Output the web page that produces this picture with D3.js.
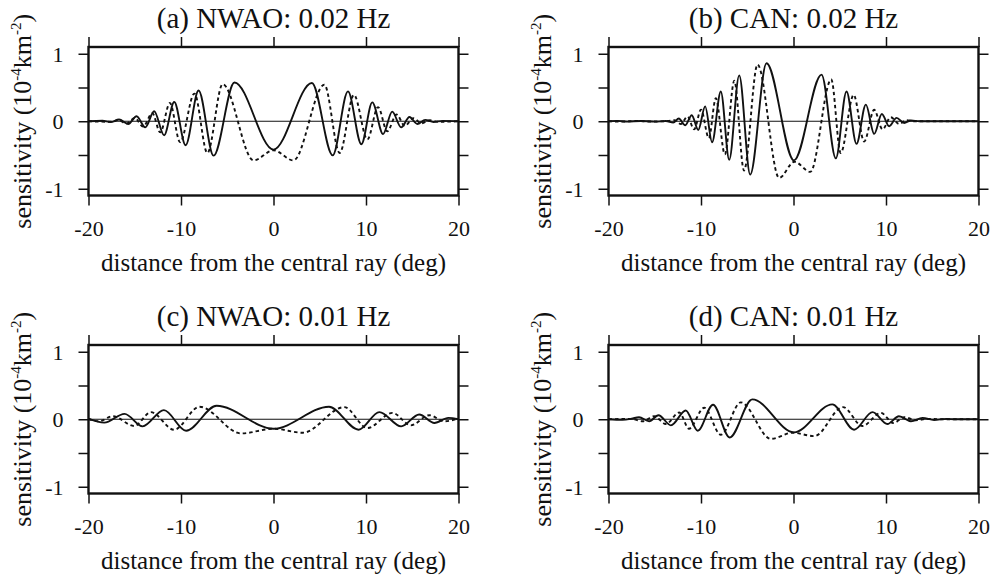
<!DOCTYPE html>
<html>
<head>
<meta charset="utf-8">
<script src="https://cdn.jsdelivr.net/npm/d3@7"></script>
<style>
  body { margin: 0; background: #fff; }
  svg { display: block; }
</style>
</head>
<body>
<script>
// tick values and labels
const xTicks = [-20, -10, 0, 10, 20]
const yTicks = [-1, -0.5, 0, 0.5, 1]
const yLabelTicks = [-1, 0, 1]
const titles = ['(a) NWAO: 0.02 Hz', '(b) CAN: 0.02 Hz', '(c) NWAO: 0.01 Hz', '(d) CAN: 0.01 Hz']
const xLabel = 'distance from the central ray (deg)'

// curves: [distance (deg), sensitivity], extrema of each wiggle
const nwao02Solid = [[-20, 0], [-18.5, 0.008], [-17.6, -0.012], [-16.7, 0.025], [-15.7, -0.04], [-14.8, 0.074],
    [-13.87, -0.09], [-12.9, 0.148], [-11.83, -0.207], [-10.73, 0.286], [-9.5, -0.355], [-8.1, 0.455],
    [-6.48, -0.51], [-4.22, 0.575], [0, -0.42], [4.15, 0.567], [6.4, -0.505], [8.05, 0.443], [9.5, -0.34],
    [10.68, 0.28], [11.85, -0.19], [12.83, 0.142], [13.8, -0.09], [14.7, 0.062], [15.55, -0.04], [16.4, 0.02],
    [17.3, -0.01], [18.3, 0.006], [20, 0]]
const nwao02Dashed = [[-20, 0], [-17.4, -0.008], [-16.8, 0.02], [-15.9, -0.035], [-15.0, 0.05], [-14.1, -0.08],
    [-13.1, 0.12], [-12.25, -0.165], [-11.2, 0.27], [-10.1, -0.31], [-8.55, 0.41], [-7.15, -0.47], [-5.5, 0.55],
    [-2.15, -0.58], [0, -0.43], [2.15, -0.58], [5.5, 0.54], [7.15, -0.47], [8.7, 0.39], [10.15, -0.27],
    [11.3, 0.21], [12.3, -0.15], [13.3, 0.1], [14.2, -0.07], [15.1, 0.045], [16.0, -0.03], [16.9, 0.015],
    [17.8, -0.008], [20, 0]]

const can02Solid = [[-20, 0], [-19, 0.005], [-18, -0.005], [-16.5, 0.004], [-15, -0.006], [-13.8, 0.003],
    [-13.0, -0.02], [-12.4, 0.04], [-11.7, -0.06], [-11.0, 0.09], [-10.3, -0.13], [-9.55, 0.22], [-8.8, -0.31],
    [-7.86, 0.44], [-6.95, -0.57], [-5.87, 0.68], [-4.68, -0.79], [-2.92, 0.86], [0.05, -0.58], [3.03, 0.69],
    [4.58, -0.55], [5.73, 0.44], [6.81, -0.335], [7.82, 0.246], [8.72, -0.187], [9.55, 0.108], [10.34, -0.074],
    [11.14, 0.05], [11.96, -0.025], [12.7, 0.012], [13.6, 0], [20, 0]]
const can02Dashed = [[-20, 0], [-18.5, -0.005], [-17, 0.005], [-15.5, -0.004], [-13.6, 0.003], [-12.9, 0.015],
    [-12.18, -0.04], [-11.46, 0.07], [-10.74, -0.12], [-10.0, 0.17], [-9.15, -0.25], [-8.4, 0.34], [-7.42, -0.49],
    [-6.4, 0.6], [-5.35, -0.73], [-3.89, 0.84], [-1.55, -0.84], [0.1, -0.6], [1.82, -0.75], [4.08, 0.62],
    [5.1, -0.47], [6.5, 0.39], [7.64, -0.3], [8.72, 0.17], [9.62, -0.12], [10.52, 0.06], [11.42, -0.04],
    [12.2, 0.015], [13.0, 0], [20, 0]]

const nwao01Solid = [[-20, 0.01], [-18.3, -0.05], [-16.1, 0.08], [-14.15, -0.105], [-11.85, 0.135], [-9.45, -0.17],
    [-6.15, 0.2], [0, -0.14], [6.0, 0.185], [9.2, -0.155], [11.45, 0.105], [13.8, -0.105], [15.75, 0.07],
    [17.4, -0.055], [18.9, 0.02], [20, 0]]
const nwao01Dashed = [[-20, 0], [-18.85, -0.03], [-17.4, 0.045], [-15.05, -0.1], [-13.25, 0.105], [-10.75, -0.155],
    [-8.0, 0.185], [-3.5, -0.21], [0, -0.14], [3.15, -0.2], [7.65, 0.18], [10.15, -0.13], [12.85, 0.095],
    [14.85, -0.09], [16.85, 0.06], [18.45, -0.03], [20, 0.01]]

const can01Solid = [[-20, 0], [-18.5, -0.008], [-17.5, 0.008], [-16.7, 0.03], [-15.6, -0.03], [-14.6, 0.06],
    [-13.25, -0.09], [-11.65, 0.13], [-10.35, -0.17], [-8.7, 0.215], [-6.9, -0.27], [-4.45, 0.295], [0.05, -0.195],
    [4.2, 0.22], [6.55, -0.155], [8.55, 0.105], [10.15, -0.07], [11.4, 0.045], [12.7, -0.03], [13.95, 0.02],
    [15.2, -0.01], [16.5, 0.005], [17.5, 0], [20, 0]]
const can01Dashed = [[-20, 0], [-17.5, 0.005], [-16.3, -0.03], [-15.05, 0.045], [-13.8, -0.07], [-12.35, 0.1],
    [-11.3, -0.14], [-9.65, 0.17], [-7.85, -0.23], [-5.7, 0.25], [-2.45, -0.29], [-0.1, -0.2], [2.25, -0.25],
    [5.35, 0.18], [7.45, -0.1], [9.45, 0.095], [10.8, -0.055], [12.0, 0.03], [13.2, -0.015], [14.5, 0.005],
    [16, 0], [20, 0]]

const panels = [
    { title: titles[0], solid: nwao02Solid, dashed: nwao02Dashed, col: 0, row: 0 },
    { title: titles[1], solid: can02Solid, dashed: can02Dashed, col: 1, row: 0 },
    { title: titles[2], solid: nwao01Solid, dashed: nwao01Dashed, col: 0, row: 1 },
    { title: titles[3], solid: can01Solid, dashed: can01Dashed, col: 1, row: 1 }
]

const width = 995
const height = 578
const colLeft = [88.5, 608.5]
const rowTop = [47, 345]
const plotW = 370
const plotH = 148.5
const ink = '#111'
const font = '"Liberation Serif", "Times New Roman", serif'

const svg = d3.select('body').append('svg')
    .attr('width', width)
    .attr('height', height)

panels.forEach(p => {
    const x0 = colLeft[p.col]
    const y0 = rowTop[p.row]

    const x = d3.scaleLinear().domain([-20, 20]).range([x0, x0 + plotW])
    const y = d3.scaleLinear().domain([-1.1, 1.1]).range([y0 + plotH, y0])

    const g = svg.append('g')

    // zero line
    g.append('line')
        .attr('x1', x(-20)).attr('x2', x(20))
        .attr('y1', y(0)).attr('y2', y(0))
        .attr('stroke', ink)
        .attr('stroke-width', 1.1)

    const line = d3.line()
        .x(d => x(d[0]))
        .y(d => y(d[1]))
        .curve(d3.curveMonotoneX)

    g.append('path')
        .attr('d', line(p.dashed))
        .attr('fill', 'none')
        .attr('stroke', ink)
        .attr('stroke-width', 1.9)
        .attr('stroke-dasharray', '3.5,3')

    g.append('path')
        .attr('d', line(p.solid))
        .attr('fill', 'none')
        .attr('stroke', ink)
        .attr('stroke-width', 1.9)

    // axes, ticks pointing outward
    const bottom = g.append('g')
        .attr('transform', 'translate(0,' + (y0 + plotH) + ')')
        .call(d3.axisBottom(x).tickValues(xTicks).tickSize(10).tickFormat(d => String(d)))
    const top = g.append('g')
        .attr('transform', 'translate(0,' + y0 + ')')
        .call(d3.axisTop(x).tickValues(xTicks).tickSize(10).tickFormat(''))
    const left = g.append('g')
        .attr('transform', 'translate(' + x0 + ',0)')
        .call(d3.axisLeft(y).tickValues(yTicks).tickSize(10)
            .tickFormat(d => yLabelTicks.includes(d) ? String(d) : ''))
    const right = g.append('g')
        .attr('transform', 'translate(' + (x0 + plotW) + ',0)')
        .call(d3.axisRight(y).tickValues(yTicks).tickSize(10).tickFormat(''))

    ;[bottom, top, left, right].forEach(a => {
        a.select('.domain').remove()
        a.selectAll('.tick line').attr('stroke', ink).attr('stroke-width', 1.5)
        a.attr('font-family', font).attr('font-size', 22)
        a.selectAll('text').attr('fill', ink)
    })
    bottom.selectAll('text').attr('y', 40).attr('dy', 0)
    left.selectAll('text').attr('x', -25).attr('dy', '0.34em')

    // frame
    g.append('rect')
        .attr('x', x0).attr('y', y0)
        .attr('width', plotW).attr('height', plotH)
        .attr('fill', 'none')
        .attr('stroke', ink)
        .attr('stroke-width', 2.4)

    // title
    g.append('text')
        .attr('x', x0 + plotW / 2)
        .attr('y', y0 - 19)
        .attr('text-anchor', 'middle')
        .attr('font-family', font)
        .attr('font-size', 29)
        .attr('fill', ink)
        .text(p.title)

    // x label
    g.append('text')
        .attr('x', x0 + plotW / 2)
        .attr('y', y0 + plotH + 75)
        .attr('text-anchor', 'middle')
        .attr('font-family', font)
        .attr('font-size', 25)
        .attr('fill', ink)
        .text(xLabel)

    // y label with superscripts
    const yl = g.append('text')
        .attr('transform', 'translate(' + (x0 - 58) + ',' + y(0) + ') rotate(-90)')
        .attr('text-anchor', 'middle')
        .attr('font-family', font)
        .attr('font-size', 26)
        .attr('fill', ink)
    yl.append('tspan').text('sensitivity (10')
    yl.append('tspan').attr('font-size', 15).attr('dy', -10).text('-4')
    yl.append('tspan').attr('dy', 10).text('km')
    yl.append('tspan').attr('font-size', 15).attr('dy', -10).text('-2')
    yl.append('tspan').attr('dy', 10).text(')')
})
</script>
</body>
</html>
